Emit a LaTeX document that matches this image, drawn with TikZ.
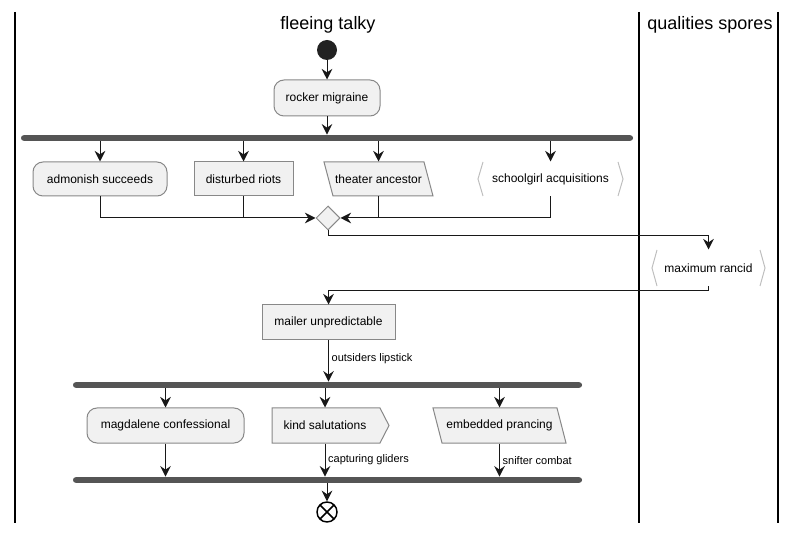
\documentclass[tikz,border=0pt]{standalone}
\usepackage{fontspec}
\setmainfont{Liberation Sans}
\usetikzlibrary{arrows.meta,shapes.geometric}

\tikzset{every picture/.style={line width=0.75pt}}
\tikzset{
  flow/.style={color={rgb, 255:red, 24; green, 24; blue, 24 }, -{Stealth[length=8pt,width=8pt,inset=2.7pt]}},
  link/.style={color={rgb, 255:red, 24; green, 24; blue, 24 }},
  act/.style={draw={rgb, 255:red, 136; green, 136; blue, 136 }, fill={rgb, 255:red, 241; green, 241; blue, 241 }, inner sep=0pt, font=\fontsize{9}{11}\selectfont},
  actround/.style={act, rounded corners=7.5pt},
  acttext/.style={inner sep=0pt, font=\fontsize{9}{11}\selectfont},
  actshape/.style={draw={rgb, 255:red, 136; green, 136; blue, 136 }, fill={rgb, 255:red, 241; green, 241; blue, 241 }},
  bracket/.style={draw={rgb, 255:red, 190; green, 190; blue, 190 }},
  forkbar/.style={fill={rgb, 255:red, 85; green, 85; blue, 85 }, inner sep=0pt, minimum height=4.2pt, rounded corners=2pt},
  edgelabel/.style={inner sep=2pt, font=\fontsize{8.25}{10}\selectfont, text={rgb, 255:red, 0; green, 0; blue, 0 }},
  lanetitle/.style={font=\fontsize{13.5}{16}\selectfont},
  lane/.style={line width=1.1pt}
}

\begin{document}
\begin{tikzpicture}[x=0.75pt,y=0.75pt,yscale=-1,xscale=1]
\useasboundingbox (0,0) rectangle (796,534);

%Shape: Swimlanes
\draw [lane] (15,12) -- (15,523) ;
\draw [lane] (639,12) -- (639,523) ;
\draw [lane] (778,12) -- (778,523) ;

% Text Node
\node (laneTalky) [lanetitle] at (328,25) {fleeing talky};
% Text Node
\node (laneSpores) [lanetitle] at (710,25) {qualities spores};

%Shape: Circle [start]
\node (start) [circle, fill={rgb, 255:red, 34; green, 34; blue, 34 }, minimum size=15pt, inner sep=0pt] at (327,50) {};

% Text Node
\node (rocker) [actround, minimum width=79.5pt, minimum height=27pt] at (327,98) {rocker migraine};

%Shape: Fork bar
\node (forkA) [forkbar, minimum width=459pt] at (327,138) {};

% Text Node
\node (admonish) [actround, minimum width=100.5pt, minimum height=25.5pt] at (100,179) {admonish succeeds};
% Text Node
\node (disturbed) [act, minimum width=74.25pt, minimum height=25.5pt] at (243.5,179) {disturbed riots};
%Shape: Parallelogram
\draw [actshape] (324,162) -- (424,162) -- (433,196) -- (333,196) -- cycle ;
\node (theater) [acttext, minimum width=75pt, minimum height=25.5pt] at (378.5,179) {theater ancestor};
%Shape: Brackets
\draw [bracket] (483,162) -- (478,179) -- (483,196) ;
\draw [bracket] (618,162) -- (623,179) -- (618,196) ;
\node (schoolgirl) [acttext, minimum width=100pt, minimum height=25.5pt] at (550.5,179) {schoolgirl acquisitions};

%Shape: Diamond [merge]
\node (merge) [diamond, actshape, inner sep=0pt, minimum width=18pt, minimum height=18pt] at (328,218) {};

%Shape: Brackets
\draw [bracket] (657,250) -- (652,268) -- (657,286) ;
\draw [bracket] (760,250) -- (765,268) -- (760,286) ;
\node (rancid) [acttext, minimum width=70pt, minimum height=27pt] at (708.5,268) {maximum rancid};

% Text Node
\node (mailer) [act, minimum width=99.75pt, minimum height=26.25pt] at (328.5,322.5) {mailer unpredictable};

%Shape: Fork bar
\node (forkB) [forkbar, minimum width=381.75pt] at (327.5,385) {};

% Text Node
\node (magdalene) [actround, minimum width=117.75pt, minimum height=26.25pt] at (165.5,425.5) {magdalene confessional};
%Shape: Pentagon
\draw [actshape] (272,408) -- (380,408) -- (389,425.5) -- (380,443) -- (272,443) -- cycle ;
\node (kind) [acttext, minimum width=79.5pt, minimum height=26.25pt] at (325,425.5) {kind salutations};
%Shape: Parallelogram
\draw [actshape] (433,408) -- (557,408) -- (566,443) -- (442,443) -- cycle ;
\node (embedded) [acttext, minimum width=90pt, minimum height=26.25pt] at (499.5,425.5) {embedded prancing};

%Shape: Fork bar
\node (forkC) [forkbar, minimum width=381.75pt] at (327.5,480) {};

%Shape: Circle [end]
\node (stop) [circle, draw, line width=1.1pt, minimum size=15pt, inner sep=0pt,
  path picture={\draw [line width=1.1pt] (path picture bounding box.north west) -- (path picture bounding box.south east) (path picture bounding box.north east) -- (path picture bounding box.south west);}] at (327,512) {};

% Connectors
\draw [flow] (start) -- (rocker) ;
\draw [flow] (rocker.south) -- (rocker.south |- forkA.north) ;
\draw [flow] (forkA.south -| admonish.north) -- (admonish.north) ;
\draw [flow] (forkA.south -| disturbed.north) -- (disturbed.north) ;
\draw [flow] (forkA.south -| theater.north) -- (theater.north) ;
\draw [flow] (forkA.south -| schoolgirl.north) -- (schoolgirl.north) ;
\draw [flow] (admonish.south) |- (merge.west) ;
\draw [link] (disturbed.south) -- (disturbed.south |- merge.west) ;
\draw [flow] (schoolgirl.south) |- (merge.east) ;
\draw [link] (theater.south) -- (theater.south |- merge.east) ;
\draw [flow] (merge.south) -- ++(0,5) -| (rancid.north) ;
\draw [flow] (rancid.south) -- ++(0,4) -| (mailer.north) ;
\draw [flow] (mailer.south) -- (mailer.south |- forkB.north) node [edgelabel, pos=0.45, right] (lblOutsiders) {outsiders lipstick} ;
\draw [flow] (forkB.south -| magdalene.north) -- (magdalene.north) ;
\draw [flow] (forkB.south -| kind.north) -- (kind.north) ;
\draw [flow] (forkB.south -| embedded.north) -- (embedded.north) ;
\draw [flow] (magdalene.south) -- (magdalene.south |- forkC.north) ;
\draw [flow] (kind.south) -- (kind.south |- forkC.north) node [edgelabel, pos=0.5, right] (lblCapturing) {capturing gliders} ;
\draw [flow] (embedded.south) -- (embedded.south |- forkC.north) node [edgelabel, pos=0.5, right] (lblSnifter) {snifter combat} ;
\draw [flow] (forkC.south -| stop.north) -- (stop.north) ;

\end{tikzpicture}
\end{document}
